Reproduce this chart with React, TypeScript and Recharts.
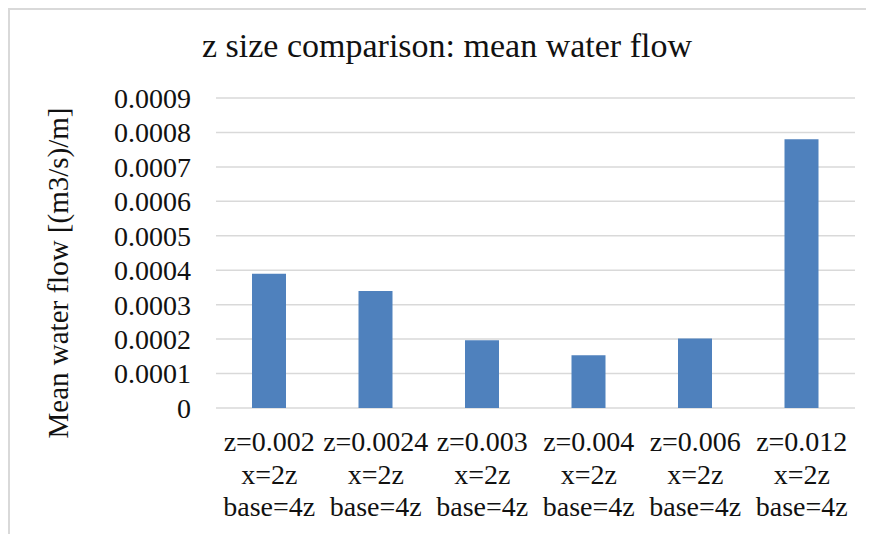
import { BarChart, Bar, CartesianGrid, XAxis, YAxis, Label } from "recharts";

const categories = ["z=0.002", "z=0.0024", "z=0.003", "z=0.004", "z=0.006", "z=0.012"];
const subLines = ["x=2z", "base=4z"];
const meanFlow = [0.00039, 0.00034, 0.000197, 0.000153, 0.000202, 0.00078];
const yTicks = [0, 0.0001, 0.0002, 0.0003, 0.0004, 0.0005, 0.0006, 0.0007, 0.0008, 0.0009];

const title = "z size comparison: mean water flow";
const yLabel = "Mean water flow [(m3/s)/m]";

const rows = categories.map((name, i) => ({ name, flow: meanFlow[i] }));

const FONT = '"Liberation Serif", "Times New Roman", serif';

const CategoryTick = (props: any) => {
  const { x, y, payload } = props;
  const lines = [payload.value, ...subLines];
  return (
    <text x={x} y={y} textAnchor="middle" fontSize={28} fill="#111" fontFamily={FONT}>
      {lines.map((line, i) => (
        <tspan key={i} x={x} dy={i === 0 ? 43 : 32.5}>
          {line}
        </tspan>
      ))}
    </text>
  );
};

// rotated axis title, baseline on the right side
const YTitle = () => (
  <text
    transform="translate(60, 265) rotate(-90)"
    textAnchor="middle"
    fontSize={29}
    fill="#111"
    fontFamily={FONT}
  >
    {yLabel}
  </text>
);

export default function App() {
  return (
    <div style={{ position: "relative", width: 866, height: 526, fontFamily: FONT, background: "#fff" }}>
      <BarChart width={866} height={526} data={rows} margin={{ top: 90, right: 19, left: 0, bottom: 0 }}>
        <CartesianGrid vertical={false} stroke="#d9d9d9" strokeWidth={1.5} />
        <XAxis
          dataKey="name"
          axisLine={false}
          tickLine={false}
          tickSize={0}
          tickMargin={0}
          height={126}
          interval={0}
          tick={<CategoryTick />}
        />
        <YAxis
          width={208}
          domain={[0, 0.0009]}
          ticks={yTicks}
          interval={0}
          axisLine={false}
          tickLine={false}
          tickSize={0}
          tickMargin={25}
          tick={{ fontSize: 28, fill: "#111", fontFamily: FONT }}
          tickFormatter={(v: number) => (v === 0 ? "0" : v.toFixed(4))}
        >
          <Label content={<YTitle />} />
        </YAxis>
        <Bar dataKey="flow" fill="#4f81bd" barSize={34} isAnimationActive={false} />
      </BarChart>
      <svg width={866} height={80} style={{ position: "absolute", left: 0, top: 0, pointerEvents: "none" }}>
        <text x={439} y={49} textAnchor="middle" fontSize={34} fill="#111" fontFamily={FONT}>
          {title}
        </text>
      </svg>
      <div
        style={{
          position: "absolute",
          left: 0,
          top: 0,
          width: 866,
          height: 526,
          borderLeft: "2px solid #d9d9d9",
          borderTop: "2px solid #d9d9d9",
          boxSizing: "border-box",
          pointerEvents: "none",
        }}
      />
    </div>
  );
}
